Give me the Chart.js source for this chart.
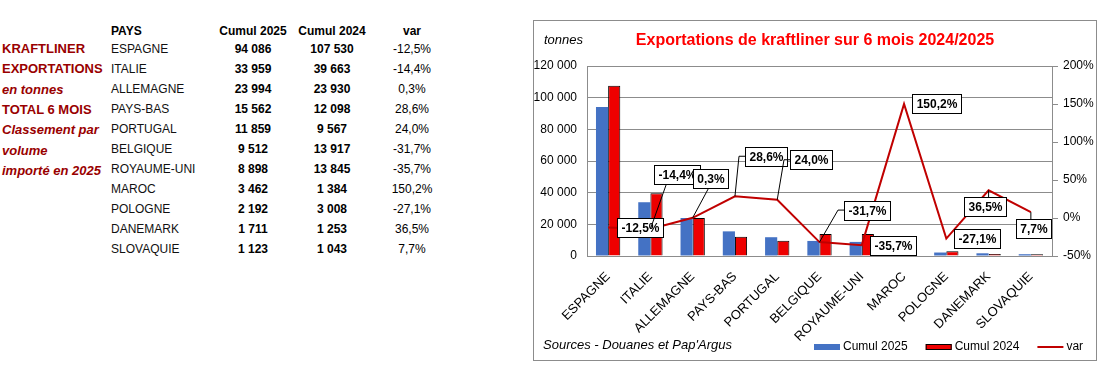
<!DOCTYPE html>
<html>
<head>
<meta charset="utf-8">
<script src="https://cdn.jsdelivr.net/npm/chart.js@4.4.1/dist/chart.umd.min.js"></script>
<style>
body { margin: 0; background: #fff; font-family: 'Liberation Sans', Arial, sans-serif; }
#page { position: relative; width: 1111px; height: 374px; overflow: hidden; }
.cap { position: absolute; left: 2px; color: #990000; font-weight: bold; font-size: 13px; line-height: 16px; white-space: nowrap; }
.cap.it { font-style: italic; }
.cell { position: absolute; font-size: 12px; line-height: 16px; white-space: nowrap; color: #000; }
.num { width: 80px; text-align: center; }
#chartBox { position: absolute; left: 533px; top: 20px; width: 562px; height: 339px; border: 1px solid #8c8c8c; overflow: hidden; }
</style>
</head>
<body>
<div id="page">
  <div id="table"></div>
  <div id="chartBox"><canvas id="exportChart" width="562" height="339"></canvas></div>
</div>
<script>
// Data
const pays = ['ESPAGNE', 'ITALIE', 'ALLEMAGNE', 'PAYS-BAS', 'PORTUGAL', 'BELGIQUE', 'ROYAUME-UNI', 'MAROC', 'POLOGNE', 'DANEMARK', 'SLOVAQUIE'];
const cumul2025 = [94086, 33959, 23994, 15562, 11859, 9512, 8898, 3462, 2192, 1711, 1123];
const cumul2024 = [107530, 39663, 23930, 12098, 9567, 13917, 13845, 1384, 3008, 1253, 1043];
const variation = [-12.5, -14.4, 0.3, 28.6, 24.0, -31.7, -35.7, 150.2, -27.1, 36.5, 7.7];
const tonnesTicks = [0, 20000, 40000, 60000, 80000, 100000, 120000];
const varTicks = [-50, 0, 50, 100, 150, 200];
const captionLines = ['KRAFTLINER', 'EXPORTATIONS', 'en tonnes', 'TOTAL 6 MOIS', 'Classement par', 'volume', 'importé en 2025'];
const captionItalic = [false, false, true, false, true, true, true];

// where each var label sits relative to its point (px)
const labelOffsets = [[32, 0], [27, -54], [18, -39], [31, -40], [34, -40], [47, -32], [31, 0], [32, 0], [31, 0], [-4, 16], [3, 16]];

const FONT = "'Liberation Sans', Arial, sans-serif";
const chartTitle = 'Exportations de kraftliner sur 6 mois 2024/2025';
const sourceText = "Sources - Douanes et Pap'Argus";

function fmtNum(n) {
    return String(n).replace(/\B(?=(\d{3})+(?!\d))/g, ' ');
}
function fmtPct(v) {
    return v.toFixed(1).replace('.', ',') + '%';
}

// Left table
const table = document.getElementById('table');
function addCell(text, left, centerY, cls, extra) {
    const d = document.createElement('div');
    d.className = cls;
    d.textContent = text;
    d.style.left = left + 'px';
    d.style.top = (centerY - 8) + 'px';
    if (extra) Object.assign(d.style, extra);
    table.appendChild(d);
}
captionLines.forEach((txt, i) => {
    addCell(txt, 2, 49 + i * 20.3, captionItalic[i] ? 'cap it' : 'cap');
});
addCell('PAYS', 111, 31, 'cell', { fontWeight: 'bold' });
addCell('Cumul 2025', 213, 31, 'cell num', { fontWeight: 'bold' });
addCell('Cumul 2024', 292, 31, 'cell num', { fontWeight: 'bold' });
addCell('var', 372, 31, 'cell num', { fontWeight: 'bold' });
pays.forEach((p, i) => {
    const y = 49 + i * 20;
    addCell(p, 111, y, 'cell', { color: '#111' });
    addCell(fmtNum(cumul2025[i]), 213, y, 'cell num', { fontWeight: 'bold' });
    addCell(fmtNum(cumul2024[i]), 292, y, 'cell num', { fontWeight: 'bold' });
    addCell(fmtPct(variation[i]), 372, y, 'cell num');
});

// Labels on the var line
const varLabels = {
    id: 'varLabels',
    afterDatasetsDraw(chart) {
        const meta = chart.getDatasetMeta(2);
        const ctx = chart.ctx;
        ctx.save();
        ctx.font = 'bold 12px ' + FONT;
        meta.data.forEach((pt, i) => {
            const txt = fmtPct(variation[i]);
            const w = Math.round(ctx.measureText(txt).width + 8), h = 19;
            const cx = pt.x + labelOffsets[i][0], cy = pt.y + labelOffsets[i][1];
            const l = Math.round(cx - w / 2), t = Math.round(cy - h / 2), r = l + w, b = t + h;
            const gapX = Math.max(l - pt.x, pt.x - r, 0);
            const gapY = Math.max(t - pt.y, pt.y - b, 0);
            ctx.strokeStyle = '#000';
            ctx.lineWidth = 1;
            if (gapY > 0) {
                ctx.beginPath();
                if (gapX > 10) {
                    const side = pt.x < l ? l : r;
                    const stub = pt.x < l ? l - 6 : r + 6;
                    ctx.moveTo(side, cy);
                    ctx.lineTo(stub, cy);
                    ctx.lineTo(pt.x, pt.y);
                } else if (pt.y > b) {
                    ctx.moveTo(Math.min(Math.max(pt.x + 16, l + 3), r - 3), b);
                    ctx.lineTo(pt.x, pt.y);
                } else {
                    ctx.moveTo(Math.min(Math.max(pt.x, l + 3), r - 3), t);
                    ctx.lineTo(pt.x, pt.y);
                }
                ctx.stroke();
            }
            ctx.fillStyle = '#fff';
            ctx.fillRect(l, t, w, h);
            ctx.strokeRect(l + 0.5, t + 0.5, w, h);
            ctx.fillStyle = '#000';
            ctx.textAlign = 'center';
            ctx.textBaseline = 'middle';
            ctx.fillText(txt, l + w / 2 + 0.5, t + h / 2 + 1);
        });
        ctx.restore();
    }
};

// Title, unit, source and legend row
const extraText = {
    id: 'extraText',
    afterDraw(chart) {
        const ctx = chart.ctx;
        ctx.save();
        ctx.textBaseline = 'alphabetic';
        ctx.fillStyle = '#ff0000';
        ctx.font = 'bold 16px ' + FONT;
        ctx.textAlign = 'center';
        ctx.fillText(chartTitle, chart.width / 2, 24);
        ctx.fillStyle = '#000';
        ctx.font = 'italic 13px ' + FONT;
        ctx.textAlign = 'left';
        ctx.fillText('tonnes', 10, 23);
        ctx.fillText(sourceText, 9, 328);

        // legend
        ctx.font = '12px ' + FONT;
        ctx.textBaseline = 'middle';
        let x = 280;
        const y = 326;
        chart.data.datasets.forEach(ds => {
            if (ds.type === 'line') {
                ctx.strokeStyle = ds.borderColor;
                ctx.lineWidth = ds.borderWidth;
                ctx.beginPath();
                ctx.moveTo(x, y);
                ctx.lineTo(x + 26, y);
                ctx.stroke();
            } else {
                ctx.fillStyle = ds.backgroundColor;
                ctx.fillRect(x, y - 3, 26, 6);
                if (ds.borderWidth) {
                    ctx.strokeStyle = ds.borderColor;
                    ctx.lineWidth = ds.borderWidth;
                    ctx.strokeRect(x + 0.5, y - 2.5, 25, 5);
                }
            }
            ctx.fillStyle = '#000';
            ctx.fillText(ds.label, x + 29, y);
            x += 29 + ctx.measureText(ds.label).width + 18;
        });
        ctx.restore();
    }
};

const exportCtx = document.getElementById('exportChart').getContext('2d');
const exportChart = new Chart(exportCtx, {
    type: 'bar',
    data: {
        labels: pays,
        datasets: [{
            label: 'Cumul 2025',
            data: cumul2025,
            backgroundColor: '#4472c4',
            borderWidth: 0,
            yAxisID: 'y',
            order: 1
        }, {
            label: 'Cumul 2024',
            data: cumul2024,
            backgroundColor: '#ee0000',
            borderColor: '#000',
            borderWidth: 1,
            yAxisID: 'y',
            order: 1
        }, {
            type: 'line',
            label: 'var',
            data: variation,
            borderColor: '#c00000',
            backgroundColor: '#c00000',
            borderWidth: 2,
            pointRadius: 0,
            tension: 0,
            yAxisID: 'y1',
            order: 0
        }]
    },
    options: {
        responsive: false,
        animation: false,
        layout: { padding: { top: 45, left: 0, right: 0, bottom: 0 } },
        datasets: { bar: { categoryPercentage: 0.575, barPercentage: 1.0 } },
        scales: {
            x: {
                grid: { display: false },
                border: { display: true, color: '#8c8c8c' },
                ticks: { color: '#000', font: { family: FONT, size: 13 }, minRotation: 45, maxRotation: 45, padding: 5, autoSkip: false },
                afterFit: scale => { scale.height = 104; }
            },
            y: {
                position: 'left',
                min: 0,
                max: 120000,
                afterBuildTicks: scale => { scale.ticks = tonnesTicks.map(v => ({ value: v })); },
                grid: { color: '#8c8c8c', drawTicks: false },
                border: { display: true, color: '#8c8c8c' },
                ticks: { color: '#000', font: { family: FONT, size: 12 }, padding: 10, callback: v => fmtNum(v) },
                afterFit: scale => { scale.width = 53; }
            },
            y1: {
                position: 'right',
                min: -50,
                max: 200,
                afterBuildTicks: scale => { scale.ticks = varTicks.map(v => ({ value: v })); },
                grid: { drawOnChartArea: false, drawTicks: true, tickLength: 6, color: '#8c8c8c' },
                border: { display: true, color: '#8c8c8c' },
                ticks: { color: '#000', font: { family: FONT, size: 12 }, padding: 5, callback: v => v + '%' },
                afterFit: scale => { scale.width = 44; }
            }
        },
        plugins: {
            title: { display: false },
            tooltip: { enabled: false },
            legend: { display: false }
        }
    },
    plugins: [varLabels, extraText]
});
</script>
</body>
</html>
